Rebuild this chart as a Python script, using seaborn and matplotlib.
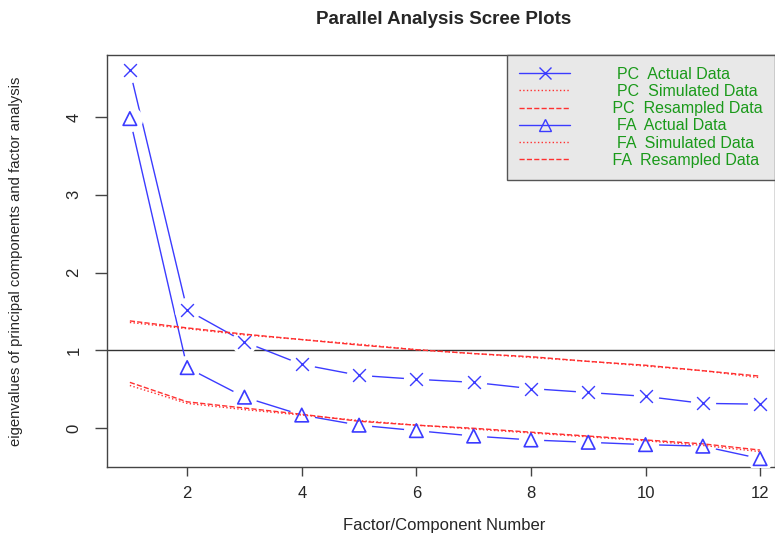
import matplotlib
matplotlib.use("Agg")
import matplotlib.pyplot as plt
import seaborn as sns
import pandas as pd
from matplotlib.lines import Line2D

# eigenvalues
factor_num = [1, 2, 3, 4, 5, 6, 7, 8, 9, 10, 11, 12]
pc_actual = [4.60, 1.52, 1.11, 0.82, 0.68, 0.63, 0.59, 0.51, 0.46, 0.41, 0.32, 0.31]
pc_simulated = [1.36, 1.28, 1.20, 1.14, 1.08, 1.01, 0.96, 0.91, 0.86, 0.80, 0.74, 0.65]
pc_resampled = [1.38, 1.29, 1.21, 1.14, 1.07, 1.01, 0.96, 0.92, 0.86, 0.81, 0.74, 0.67]
fa_actual = [3.98, 0.78, 0.40, 0.17, 0.04, -0.03, -0.10, -0.15, -0.18, -0.21, -0.23, -0.39]
fa_simulated = [0.55, 0.32, 0.24, 0.17, 0.10, 0.04, -0.01, -0.06, -0.11, -0.16, -0.22, -0.30]
fa_resampled = [0.59, 0.34, 0.26, 0.18, 0.09, 0.04, 0.00, -0.05, -0.10, -0.15, -0.20, -0.28]

labels = ["  PC  Actual Data", "  PC  Simulated Data", " PC  Resampled Data",
          "  FA  Actual Data", "  FA  Simulated Data", " FA  Resampled Data"]

df = pd.DataFrame({
    "n": factor_num,
    "pc_actual": pc_actual, "pc_sim": pc_simulated, "pc_res": pc_resampled,
    "fa_actual": fa_actual, "fa_sim": fa_simulated, "fa_res": fa_resampled,
})

sns.set_style("white")
plt.rcParams['font.family'] = ['Liberation Sans', 'DejaVu Sans']

blue = "#3b3bff"
red = "#ff3030"

fig = plt.figure(figsize=(7.75, 5.37), dpi=100)
ax = fig.add_axes([0.138, 0.130, 0.862, 0.768])

# actual data: line with gaps around the points (like R type="b")
for col, mk in [("pc_actual", "x"), ("fa_actual", "^")]:
    sns.lineplot(x="n", y=col, data=df, ax=ax, color=blue, lw=1.0, zorder=2)
    ax.scatter(df["n"], df[col], s=330, color="white", zorder=3, linewidths=0)
    if mk == "x":
        ax.scatter(df["n"], df[col], s=85, marker="x", color=blue, lw=1.0, zorder=5)
    else:
        ax.scatter(df["n"], df[col], s=95, marker="^", facecolors="none",
                   edgecolors=blue, lw=1.2, zorder=5)

for col, ls in [("pc_sim", ":"), ("pc_res", "--"), ("fa_sim", ":"), ("fa_res", "--")]:
    sns.lineplot(x="n", y=col, data=df, ax=ax, color=red, lw=1.0,
                 linestyle=ls, zorder=4)

ax.axhline(1, color="#333333", lw=1.0, zorder=1)

ax.set_xlim(0.6, 12.26)
ax.set_ylim(-0.5, 4.8)
ax.set_xticks([2, 4, 6, 8, 10, 12])
ax.set_yticks([0, 1, 2, 3, 4])
ax.tick_params(axis="both", direction="out", width=1, color="#444444",
               labelsize=12, bottom=True, left=True)
ax.tick_params(axis="x", length=6.5, pad=7)
ax.tick_params(axis="y", length=8.5, pad=10)
for t in ax.get_yticklabels():
    t.set_rotation(90)
    t.set_va("center")
for sp in ax.spines.values():
    sp.set_color("#444444")
    sp.set_linewidth(1.0)

ax.set_xlabel("Factor/Component Number", fontsize=12)
ax.xaxis.set_label_coords(0.505, -0.124)
ax.set_ylabel("eigenvalues of principal components and factor analysis",
              fontsize=10.7)
ax.yaxis.set_label_coords(-0.126, 0.5)
fig.text(0.572, 0.963, "Parallel Analysis Scree Plots", ha="center", va="center",
         fontsize=13.5, fontweight="bold")

handles = [
    Line2D([], [], color=blue, lw=1, marker="x", markersize=8),
    Line2D([], [], color=red, lw=1, linestyle=":"),
    Line2D([], [], color=red, lw=1, linestyle="--"),
    Line2D([], [], color=blue, lw=1, marker="^", markersize=8,
           markerfacecolor="none", markeredgecolor=blue),
    Line2D([], [], color=red, lw=1, linestyle=":"),
    Line2D([], [], color=red, lw=1, linestyle="--"),
]
leg = ax.legend(handles, labels, loc="upper right", bbox_to_anchor=(1.0, 1.0),
                fontsize=11.5, frameon=True, fancybox=False, facecolor="#e8e8e8",
                edgecolor="#555555", framealpha=1, labelcolor="#1a9a1a",
                handlelength=3.2, labelspacing=0.14, borderpad=0.75,
                handletextpad=2.4, borderaxespad=0)
leg.get_frame().set_linewidth(1.0)

fig.savefig("out.png", dpi=100)
